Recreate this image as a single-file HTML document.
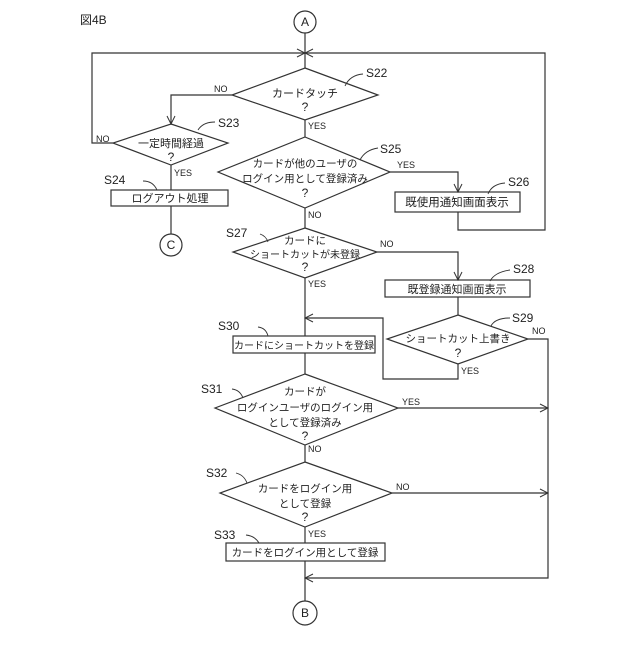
<!DOCTYPE html>
<html><head><meta charset="utf-8"><style>
body{margin:0;background:#fff}
svg text{font-family:"Liberation Sans","Noto Sans CJK JP",sans-serif;fill:#222}
</style></head><body>
<svg width="640" height="640" viewBox="0 0 640 640" xmlns="http://www.w3.org/2000/svg">
<defs><marker id="a" markerWidth="10" markerHeight="10" refX="9" refY="5" orient="auto" markerUnits="userSpaceOnUse"><path d="M1,1 L9,5 L1,9" fill="none" stroke="#333" stroke-width="1"/></marker></defs>
<g stroke="#333" stroke-width="1.2" fill="none">
<circle cx="305" cy="22" r="11"/>
<line x1="305" y1="33" x2="305" y2="68"/>
<polyline points="113,143 92,143 92,53 305,53" marker-end="url(#a)"/>
<polyline points="458,212 458,230 545,230 545,53 305,53" marker-end="url(#a)"/>
<polygon points="305,68 378,95 305,120 232,95"/>
<polyline points="232,95 171,95 171,124" marker-end="url(#a)"/>
<polygon points="171,124 228,143 171,165 113,143"/>
<line x1="171" y1="165" x2="171" y2="190"/>
<rect x="111" y="190" width="117" height="16"/>
<line x1="171" y1="206" x2="171" y2="234"/>
<circle cx="171" cy="245" r="11"/>
<line x1="305" y1="120" x2="305" y2="137"/>
<polygon points="305,137 390,172 305,208 218,172"/>
<polyline points="390,172 458,172 458,192" marker-end="url(#a)"/>
<rect x="395" y="192" width="125" height="20"/>
<line x1="305" y1="208" x2="305" y2="228"/>
<polygon points="305,228 377,252 305,278 233,252"/>
<polyline points="377,252 458,252 458,280" marker-end="url(#a)"/>
<rect x="385" y="280" width="145" height="17"/>
<line x1="458" y1="297" x2="458" y2="315"/>
<polygon points="458,315 528,339 458,364 387,339"/>
<polyline points="528,339 548,339 548,578 305,578" marker-end="url(#a)"/>
<polyline points="458,364 458,379 383,379 383,318 305,318" marker-end="url(#a)"/>
<line x1="305" y1="278" x2="305" y2="336"/>
<rect x="233" y="336" width="142" height="17"/>
<line x1="305" y1="353" x2="305" y2="374"/>
<polygon points="305,374 398,408 305,445 215,408"/>
<line x1="398" y1="408" x2="548" y2="408" marker-end="url(#a)"/>
<line x1="305" y1="445" x2="305" y2="462"/>
<polygon points="305,462 392,493 305,527 220,493"/>
<line x1="392" y1="493" x2="548" y2="493" marker-end="url(#a)"/>
<line x1="305" y1="527" x2="305" y2="543"/>
<rect x="226" y="543" width="159" height="18"/>
<line x1="305" y1="561" x2="305" y2="601"/>
<circle cx="305" cy="613" r="12"/>
<g stroke-width="0.9">
<path d="M345,86 Q350,75 363,74"/>
<path d="M198,130 Q203,122 215,122"/>
<path d="M360,160 Q365,150 378,148"/>
<path d="M488,194 Q492,184 505,183"/>
<path d="M143,181 Q153,181 157,190"/>
<path d="M260,234 Q266,236 268,242"/>
<path d="M490,281 Q495,272 510,270"/>
<path d="M491,326 Q495,318 510,318"/>
<path d="M258,327 Q266,328 268,336"/>
<path d="M232,389 Q240,390 243,398"/>
<path d="M236,473 Q244,475 247,483"/>
<path d="M246,535 Q255,536 259,543"/>
</g>
</g>
<g font-size="10.5">
<text x="80" y="24" font-size="12">図4B</text>
<text x="305" y="26" text-anchor="middle" font-size="12">A</text>
<text x="171" y="249" text-anchor="middle" font-size="12">C</text>
<text x="305" y="617" text-anchor="middle" font-size="12">B</text>
<text x="305" y="97" text-anchor="middle" font-size="11">カードタッチ</text>
<text x="305" y="111" text-anchor="middle" font-size="12">?</text>
<text x="366" y="77" font-size="12">S22</text>
<text x="214" y="92" font-size="9">NO</text>
<text x="171" y="147" text-anchor="middle" font-size="11">一定時間経過</text>
<text x="171" y="161" text-anchor="middle" font-size="12">?</text>
<text x="218" y="127" font-size="12">S23</text>
<text x="96" y="142" font-size="9">NO</text>
<text x="174" y="176" font-size="9">YES</text>
<text x="104" y="184" font-size="12">S24</text>
<text x="170" y="202" text-anchor="middle" font-size="11">ログアウト処理</text>
<text x="308" y="129" font-size="9">YES</text>
<text x="305" y="167" text-anchor="middle">カードが他のユーザの</text>
<text x="305" y="182" text-anchor="middle">ログイン用として登録済み</text>
<text x="305" y="197" text-anchor="middle" font-size="12">?</text>
<text x="380" y="153" font-size="12">S25</text>
<text x="397" y="168" font-size="9">YES</text>
<text x="508" y="186" font-size="12">S26</text>
<text x="457" y="206" text-anchor="middle" font-size="11.5">既使用通知画面表示</text>
<text x="308" y="218" font-size="9">NO</text>
<text x="305" y="244" text-anchor="middle">カードに</text>
<text x="305" y="258" text-anchor="middle" font-size="10">ショートカットが未登録</text>
<text x="305" y="271" text-anchor="middle" font-size="12">?</text>
<text x="226" y="237" font-size="12">S27</text>
<text x="380" y="247" font-size="9">NO</text>
<text x="308" y="287" font-size="9">YES</text>
<text x="513" y="273" font-size="12">S28</text>
<text x="457" y="293" text-anchor="middle" font-size="11">既登録通知画面表示</text>
<text x="458" y="342" text-anchor="middle">ショートカット上書き</text>
<text x="458" y="357" text-anchor="middle" font-size="12">?</text>
<text x="512" y="322" font-size="12">S29</text>
<text x="532" y="334" font-size="9">NO</text>
<text x="461" y="374" font-size="9">YES</text>
<text x="218" y="330" font-size="12">S30</text>
<text x="304" y="349" text-anchor="middle" font-size="10">カードにショートカットを登録</text>
<text x="305" y="395" text-anchor="middle">カードが</text>
<text x="305" y="411" text-anchor="middle">ログインユーザのログイン用</text>
<text x="305" y="426" text-anchor="middle">として登録済み</text>
<text x="305" y="440" text-anchor="middle" font-size="12">?</text>
<text x="201" y="393" font-size="12">S31</text>
<text x="402" y="405" font-size="9">YES</text>
<text x="308" y="452" font-size="9">NO</text>
<text x="305" y="492" text-anchor="middle">カードをログイン用</text>
<text x="305" y="507" text-anchor="middle">として登録</text>
<text x="305" y="521" text-anchor="middle" font-size="12">?</text>
<text x="206" y="477" font-size="12">S32</text>
<text x="396" y="490" font-size="9">NO</text>
<text x="308" y="537" font-size="9">YES</text>
<text x="214" y="539" font-size="12">S33</text>
<text x="305" y="556" text-anchor="middle">カードをログイン用として登録</text>
</g>
</svg>
</body></html>
